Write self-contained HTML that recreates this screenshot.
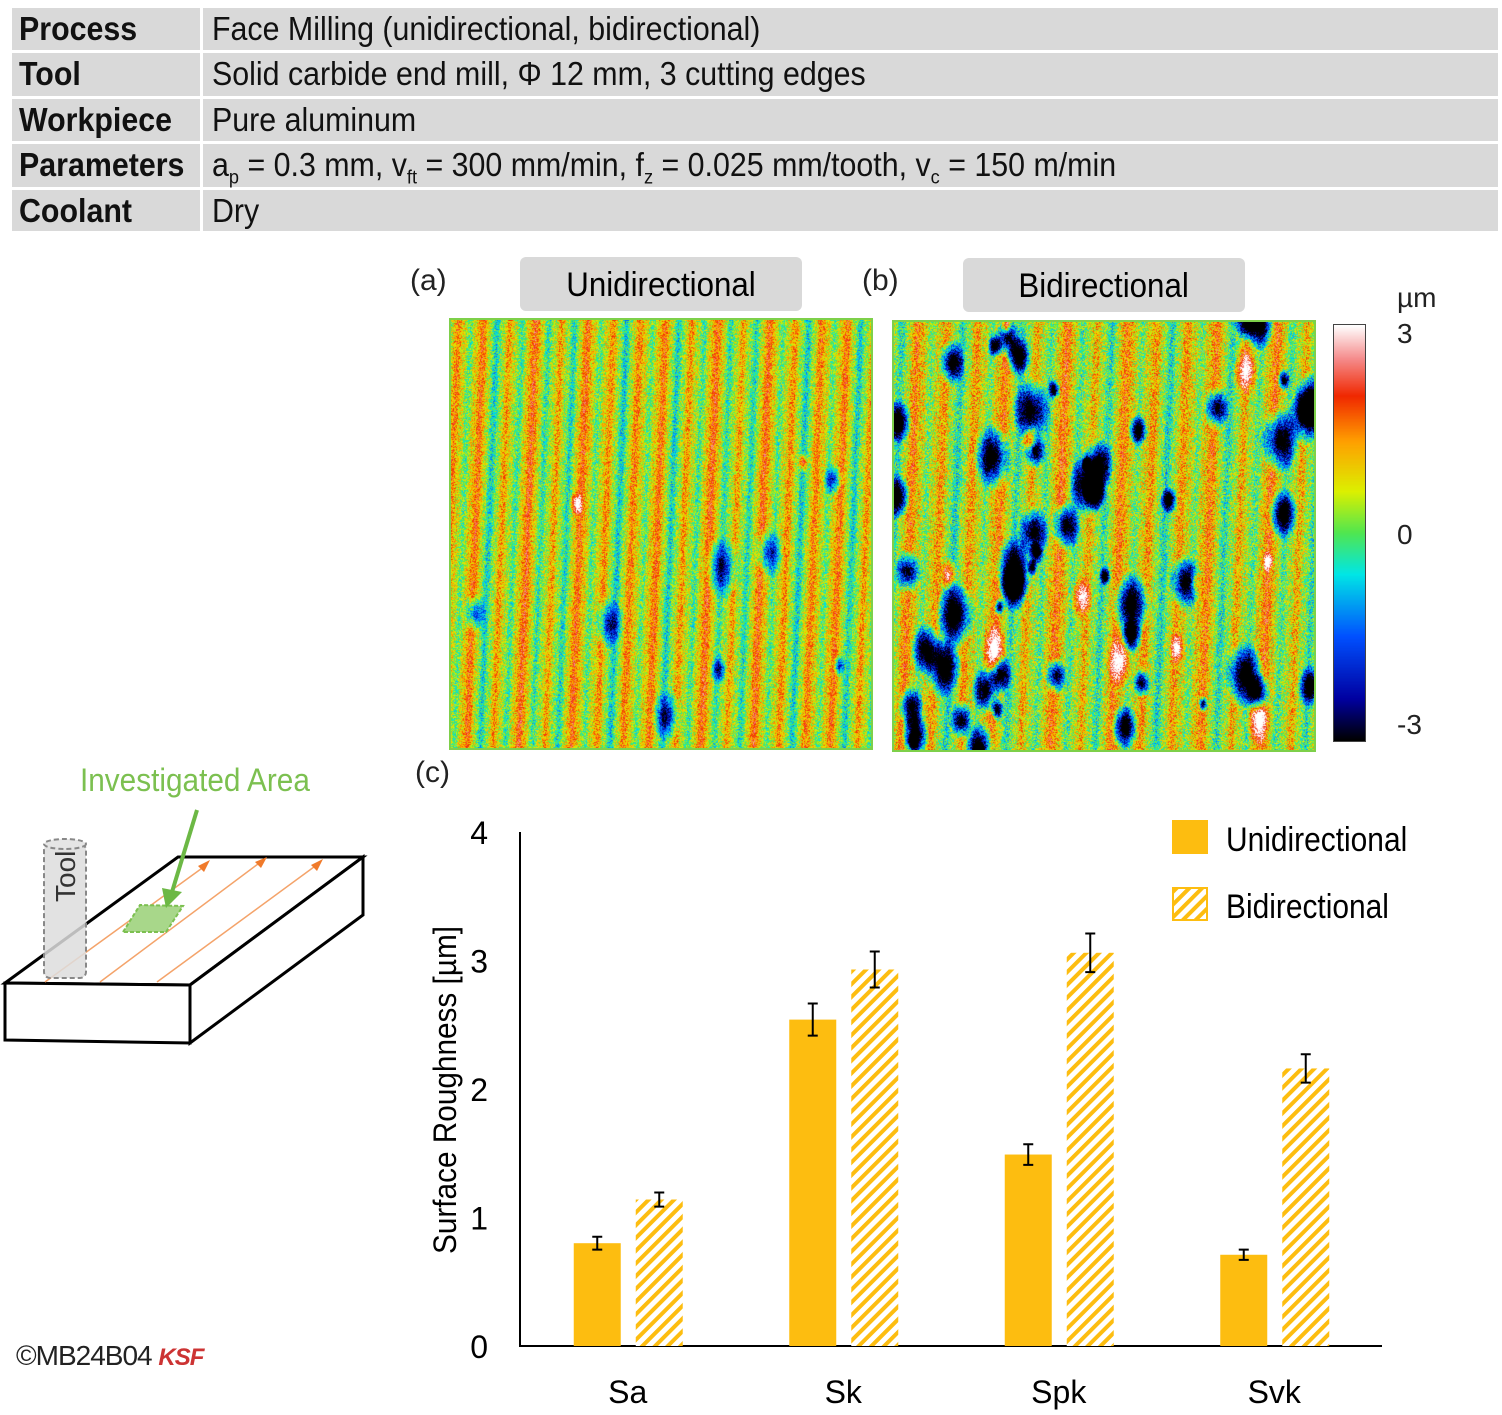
<!DOCTYPE html>
<html><head><meta charset="utf-8"><style>
body{margin:0;width:1502px;height:1415px;background:#fff;position:relative;overflow:hidden;font-family:"Liberation Sans",sans-serif;}
.row{position:absolute;left:12px;width:1486px;background:#d9d9d9;}
.c1,.c2{position:absolute;top:0;height:100%;font-size:33px;line-height:42px;white-space:nowrap;color:#111;}
.c1{left:0;width:191px;font-weight:bold;border-right:3px solid #fff;padding-left:7px;box-sizing:border-box}
.c2{left:200px;}
.sq{display:inline-block;transform:scaleX(0.92);transform-origin:left center;}
.lbl{position:absolute;font-size:30px;color:#222}
.tab{position:absolute;background:#d9d9d9;border-radius:6px;font-size:34px;text-align:center;line-height:56px}
canvas{position:absolute}
sub{font-size:60%}
</style></head><body>
<div class="row" style="top:8px;height:42px"><div class="c1"><span class="sq">Process</span></div><div class="c2"><span class="sq">Face Milling (unidirectional, bidirectional)</span></div></div>
<div class="row" style="top:53px;height:43px"><div class="c1"><span class="sq">Tool</span></div><div class="c2"><span class="sq">Solid carbide end mill, Φ 12 mm, 3 cutting edges</span></div></div>
<div class="row" style="top:99px;height:42px"><div class="c1"><span class="sq">Workpiece</span></div><div class="c2"><span class="sq">Pure aluminum</span></div></div>
<div class="row" style="top:144px;height:43px"><div class="c1"><span class="sq">Parameters</span></div><div class="c2"><span class="sq">a<sub>p</sub> = 0.3 mm, v<sub>ft</sub> = 300 mm/min, f<sub>z</sub> = 0.025 mm/tooth, v<sub>c</sub> = 150 m/min</span></div></div>
<div class="row" style="top:190px;height:41px"><div class="c1"><span class="sq">Coolant</span></div><div class="c2"><span class="sq">Dry</span></div></div>

<div class="lbl" style="left:410px;top:264px">(a)</div>
<div class="lbl" style="left:862px;top:264px">(b)</div>
<div class="lbl" style="left:415px;top:756px">(c)</div>
<div class="tab" style="left:520px;top:257px;width:282px;height:54px"><span class="sq" style="transform-origin:center">Unidirectional</span></div>
<div class="tab" style="left:963px;top:258px;width:282px;height:54px"><span class="sq" style="transform-origin:center">Bidirectional</span></div>
<canvas id="ma" width="420" height="428" style="left:451px;top:320px;border:2px solid #7ed04a;margin:-2px"></canvas>
<canvas id="mb" width="420" height="428" style="left:894px;top:322px;border:2px solid #7ed04a;margin:-2px"></canvas>
<canvas id="cb" width="31" height="416" style="left:1334px;top:325px;outline:1px solid #444"></canvas>
<div class="lbl" style="left:1397px;top:282px;font-size:28px">µm</div>
<div class="lbl" style="left:1397px;top:318px;font-size:28px">3</div>
<div class="lbl" style="left:1397px;top:519px;font-size:28px">0</div>
<div class="lbl" style="left:1397px;top:709px;font-size:28px">-3</div>

<svg style="position:absolute;left:0;top:0" width="1502" height="1415">
<text x="80" y="791" font-size="32" fill="#7cc050" font-family="Liberation Sans" transform="translate(80,0) scale(0.93,1) translate(-80,0)">Investigated Area</text>
<polygon points="5,983 178,857 363,857 190,985" fill="#fff" stroke="#000" stroke-width="3"/>
<polygon points="5,983 190,985 190,1043 5,1040" fill="#fff" stroke="#000" stroke-width="3"/>
<polygon points="190,985 363,857 363,915 190,1043" fill="#fff" stroke="#000" stroke-width="3"/>
<g stroke="#f4a36a" stroke-width="1.5"><line x1="45" y1="982" x2="205" y2="866"/><line x1="100" y1="982" x2="262" y2="861"/><line x1="157" y1="982" x2="318" y2="864"/></g>
<g fill="#f07a2a"><polygon points="198,866 210,860 204,872"/><polygon points="255,862 267,857 261,868"/><polygon points="311,865 323,859 317,871"/></g>
<rect x="44" y="844" width="42" height="134" rx="6" fill="#ddd" fill-opacity="0.85" stroke="#888" stroke-dasharray="5,3" stroke-width="2"/>
<ellipse cx="65" cy="844" rx="21" ry="5" fill="#e5e5e5" stroke="#888" stroke-dasharray="5,3" stroke-width="2"/>
<text x="75" y="902" font-size="28" fill="#333" transform="rotate(-90 75 902)" font-family="Liberation Sans">Tool</text>
<polygon points="123,932 140,905 183,906 166,932" fill="#a8d78a" stroke="#7cc050" stroke-dasharray="4,2" stroke-width="2"/>
<line x1="197" y1="810" x2="172" y2="892" stroke="#6cb845" stroke-width="4"/>
<polygon points="162,888 182,892 166,908" fill="#6cb845"/>
</svg>
<div class="lbl" style="left:16px;top:1340px;font-size:28px;letter-spacing:-1px">©MB24B04 <span style="color:#c33;font-style:italic;font-weight:bold;font-size:24px">KSF</span></div>

<svg id="chart" style="position:absolute;left:0;top:0" width="1502" height="1415">
<defs><pattern id="hatch" width="9" height="9" patternUnits="userSpaceOnUse" patternTransform="rotate(45)"><rect width="9" height="9" fill="#fff"/><rect width="4" height="9" fill="#fdbd10"/></pattern></defs>
</svg>
<script>
const categories=["Sa","Sk","Spk","Svk"];
const uniValues=[0.80,2.54,1.49,0.71];
const biValues=[1.14,2.93,3.06,2.16];
const uniErr=[0.05,0.125,0.08,0.04];
const biErr=[0.055,0.14,0.15,0.11];
const yTicks=[0,1,2,3,4];
const NS="http://www.w3.org/2000/svg";
const svg=document.getElementById('chart');
const x0=520,x1=1382,yB=1346,yT=832,yMax=4;
const y=v=>yB-(v/yMax)*(yB-yT);
const band=(x1-x0)/categories.length;
const xc=i=>x0+band*(i+0.5);
function mk(t,a){const e=document.createElementNS(NS,t);for(const k in a)e.setAttribute(k,a[k]);svg.appendChild(e);return e;}
let ax=mk('path',{d:`M${x0} ${yT}V${yB}H${x1}`,stroke:'#000','stroke-width':2,fill:'none'});


yTicks.forEach(t=>{const e=mk('text',{x:488,y:y(t)+12,'font-size':32,'text-anchor':'end','font-family':'Liberation Sans'});e.textContent=t;

});
let yt=mk('text',{x:0,y:0,'font-size':32,'text-anchor':'middle','font-family':'Liberation Sans',transform:`translate(456,1090) rotate(-90) scale(0.93,1)`});yt.textContent='Surface Roughness [µm]';


categories.forEach((c,i)=>{
 const t=mk('text',{x:xc(i),y:1403,'font-size':32,'text-anchor':'middle','font-family':'Liberation Sans'});t.textContent=c;
 
 
 [[uniValues,uniErr,-54,'#fdbd10'],[biValues,biErr,8,'url(#hatch)']].forEach(([vals,errs,off,fill],s)=>{
  const r=mk('rect',{x:xc(i)+off,y:y(vals[i]),width:47,height:yB-y(vals[i]),fill:fill});
  
  
  const cx=xc(i)+off+23.5,a=y(vals[i]+errs[i]),b=y(vals[i]-errs[i]);
  const eb=mk('path',{d:`M${cx} ${a}V${b}M${cx-5} ${a}H${cx+5}M${cx-5} ${b}H${cx+5}`,stroke:'#000','stroke-width':2,fill:'none'});
  
  
 });
});
const lg1=mk('rect',{x:1172,y:820,width:36,height:34,fill:'#fdbd10'});


const lg2=mk('rect',{x:1173,y:888,width:34,height:32,fill:'url(#hatch)',stroke:'#fdbd10','stroke-width':2});


[['Unidirectional',851],['Bidirectional',918]].forEach(([s,yy])=>{const e=mk('text',{x:0,y:0,'font-size':34,'font-family':'Liberation Sans',transform:`translate(1226,${yy}) scale(0.88,1)`});e.textContent=s;

});

// heatmaps
const stops=[[0,[0,0,0]],[0.1,[0,0,160]],[0.25,[0,80,255]],[0.4,[0,230,230]],[0.5,[80,230,80]],[0.6,[220,240,0]],[0.72,[255,160,0]],[0.83,[240,40,0]],[0.92,[245,140,140]],[1,[255,255,255]]];
function cmap(v){v=Math.max(0,Math.min(1,v));for(let i=1;i<stops.length;i++){if(v<=stops[i][0]){const[a,ca]=stops[i-1],[b,cb]=stops[i];const t=(v-a)/(b-a);return ca.map((c,k)=>Math.round(c+(cb[k]-c)*t));}}return[255,255,255];}
let seed=7;function rnd(){seed=(seed*16807)%2147483647;return seed/2147483647;}
function draw(id,period,noise,holes,depth,amp){const cv=document.getElementById(id),ctx=cv.getContext('2d');const W=cv.width,H=cv.height;const im=ctx.createImageData(W,H);
 const ph=[];for(let k=0;k<8;k++)ph.push(rnd()*6);
 const spots=[];for(let k=0;k<holes;k++)spots.push([rnd()*W,rnd()*H,5+rnd()*16]);
 const whites=[];for(let k=0;k<Math.round(holes/5);k++)whites.push([rnd()*W,rnd()*H,4+rnd()*10]);
 for(let yy=0;yy<H;yy++)for(let xx=0;xx<W;xx++){
  const xs=xx+yy*0.04;
  const s1=Math.sin(xs/period*2*Math.PI+ph[0]);
  let v=0.6+amp*Math.sign(s1)*Math.pow(Math.abs(s1),2)+0.05*Math.sin(xs/(period*0.37)+ph[1]);
  v+=(rnd()-0.5)*noise;
  for(const s of spots){const d=Math.hypot(xx-s[0],(yy-s[1])*0.6);if(d<s[2])v-=depth*(1-d/s[2]);}
  for(const s of whites){const d=Math.hypot(xx-s[0],(yy-s[1])*0.5);if(d<s[2])v+=0.5*(1-d/s[2]);}
  const c=cmap(v);const o=(yy*W+xx)*4;im.data[o]=c[0];im.data[o+1]=c[1];im.data[o+2]=c[2];im.data[o+3]=255;}
 ctx.putImageData(im,0,0);}
draw('ma',26,0.28,8,0.5,0.16);
draw('mb',30,0.32,55,0.9,0.14);
const cb=document.getElementById('cb').getContext('2d');for(let i=0;i<416;i++){const c=cmap(1-i/415);cb.fillStyle=`rgb(${c})`;cb.fillRect(0,i,31,1);}
</script>
</body></html>
